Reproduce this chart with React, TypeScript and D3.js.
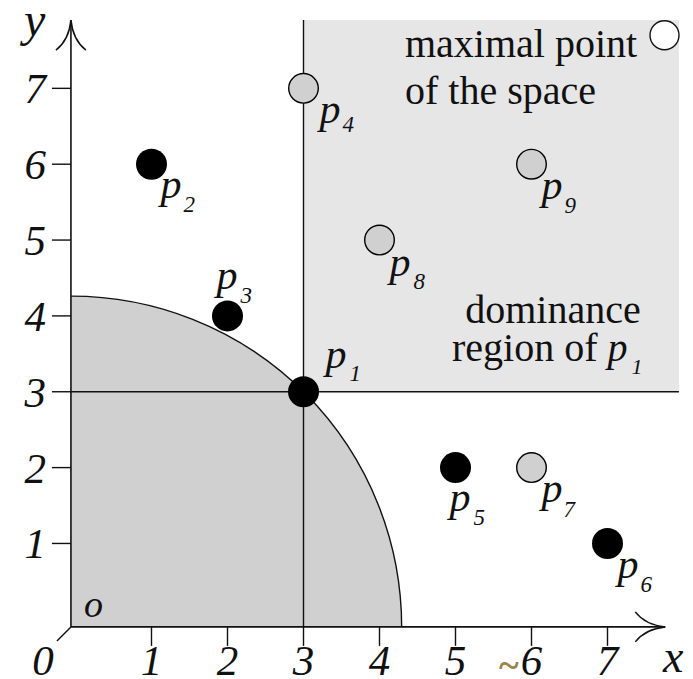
import React from "react";
import * as d3 from "d3";

// Points of the data set (minimisation skyline example)
const pointIds = [1, 2, 3, 4, 5, 6, 7, 8, 9];
const pointX = [3, 1, 2, 3, 5, 7, 6, 4, 6];
const pointY = [3, 6, 4, 7, 2, 1, 2, 5, 6];
// dominated points are drawn grey, skyline points black
const dominated = [false, false, false, true, false, false, true, true, true];

const xTicks = [1, 2, 3, 4, 5, 6, 7];
const yTicks = [1, 2, 3, 4, 5, 6, 7];

// extent of the space and its maximal point
const axisCorner = [-0.06, -0.1];
const spaceMax = [7.94, 7.9];
const maxPoint = [7.75, 7.7];
const xArrowEnd = 7.76;

// label placement relative to each point: [p dx, p dy, sub dx, sub dy]
const labelOffsets: Record<number, [number, number, number, number]> = {
  1: [22, -24, 46, -11],
  2: [9, 34, 32, 48],
  3: [-11, -27, 13, -13],
  4: [16, 35, 39, 44],
  5: [-6, 43, 18, 57],
  6: [10, 35, 33, 49],
  7: [10, 34, 32, 49],
  8: [10, 36, 34, 49],
  9: [10, 35, 33, 49],
};

const FONT = "'Liberation Serif', 'Times New Roman', serif";
const INK = "#111";

export default function App() {
  const W = 693;
  const H = 679;
  const x = d3.scaleLinear().domain([0, 7]).range([75.5, 607.5]);
  const y = d3.scaleLinear().domain([0, 7]).range([619.3, 88.35]);

  const ox = x(axisCorner[0]);
  const oy = y(axisCorner[1]);
  const p1x = x(pointX[0]);
  const p1y = y(pointY[0]);
  const r = Math.hypot(p1x - ox, p1y - oy);

  const topY = y(spaceMax[1]);
  const rightX = x(spaceMax[0]);
  const xEnd = x(xArrowEnd);

  const quarterFill = `M${ox},${oy - r} A${r},${r} 0 0 1 ${ox + r},${oy} L${ox},${oy} Z`;
  const quarterArc = `M${ox},${oy - r} A${r},${r} 0 0 1 ${ox + r},${oy}`;

  const yArrow = `M${ox - 15},${topY + 30} Q${ox - 2},${topY + 20} ${ox},${topY} Q${ox + 2},${topY + 20} ${ox + 15},${topY + 30}`;
  const xArrow = `M${xEnd - 30},${oy - 15} Q${xEnd - 20},${oy - 2} ${xEnd},${oy} Q${xEnd - 20},${oy + 2} ${xEnd - 30},${oy + 15}`;

  return (
    <svg
      width={W}
      height={H}
      viewBox={`0 0 ${W} ${H}`}
      style={{ position: "absolute", left: 0, top: 0, background: "#fff" }}
      fontFamily={FONT}
    >
      {/* dominance region of p1 */}
      <rect x={p1x} y={topY} width={rightX - p1x} height={p1y - topY} fill="#e6e6e6" />
      {/* quarter disc through p1 */}
      <path d={quarterFill} fill="#d0d0d0" />
      <path d={quarterArc} fill="none" stroke={INK} strokeWidth={1.4} />

      {/* lines through p1 */}
      <line x1={p1x} x2={p1x} y1={topY} y2={oy} stroke={INK} strokeWidth={1.4} />
      <line x1={ox} x2={rightX} y1={p1y} y2={p1y} stroke={INK} strokeWidth={1.4} />

      {/* axes */}
      <line x1={ox} x2={ox} y1={oy} y2={topY} stroke={INK} strokeWidth={1.6} />
      <line x1={ox} x2={xEnd} y1={oy} y2={oy} stroke={INK} strokeWidth={1.6} />
      <path d={yArrow} fill="none" stroke={INK} strokeWidth={1.5} />
      <path d={xArrow} fill="none" stroke={INK} strokeWidth={1.5} />
      <line x1={ox} y1={oy} x2={ox - 14} y2={oy + 14} stroke={INK} strokeWidth={1.4} />

      {/* ticks */}
      {xTicks.map((t) => (
        <g key={`xt${t}`}>
          <line x1={x(t)} x2={x(t)} y1={oy} y2={oy + 19} stroke={INK} strokeWidth={1.4} />
          <text x={x(t)} y={675} fontSize={43} fontStyle="italic" textAnchor="middle" fill={INK}>
            {t}
          </text>
        </g>
      ))}
      {yTicks.map((t) => (
        <g key={`yt${t}`}>
          <line x1={ox - 19} x2={ox} y1={y(t)} y2={y(t)} stroke={INK} strokeWidth={1.4} />
          <text x={46} y={y(t) + 15} fontSize={43} fontStyle="italic" textAnchor="end" fill={INK}>
            {t}
          </text>
        </g>
      ))}
      <text x={43} y={675} fontSize={43} fontStyle="italic" textAnchor="middle" fill={INK}>0</text>
      <text x={663} y={672} fontSize={46} fontStyle="italic" fill={INK}>x</text>
      <text x={24} y={36} fontSize={48} fontStyle="italic" fill={INK}>y</text>
      <text x={84} y={617} fontSize={38} fontStyle="italic" fill={INK}>o</text>
      <text x={499} y={678} fontSize={38} fontWeight="bold" fill="#9c8450">~</text>

      {/* annotations */}
      <text x={405} y={57} fontSize={40} fill={INK}>maximal point</text>
      <text x={405} y={104} fontSize={40} fill={INK}>of the space</text>
      <text x={553} y={323} fontSize={40} textAnchor="middle" fill={INK}>dominance</text>
      <text x={452} y={361} fontSize={40} fill={INK}>
        region of <tspan fontStyle="italic">p</tspan>
        <tspan fontSize={22} fontStyle="italic" dy={13} dx={4}>1</tspan>
      </text>
      <circle cx={x(maxPoint[0])} cy={y(maxPoint[1])} r={14.5} fill="#fff" stroke={INK} strokeWidth={1.4} />

      {/* points */}
      {pointIds.map((id, i) => {
        const cx = x(pointX[i]);
        const cy = y(pointY[i]);
        const [pdx, pdy, sdx, sdy] = labelOffsets[id];
        return (
          <g key={`p${id}`}>
            <circle
              cx={cx}
              cy={cy}
              r={dominated[i] ? 14.8 : 15.5}
              fill={dominated[i] ? "#d0d0d0" : "#000"}
              stroke="#000"
              strokeWidth={dominated[i] ? 1.4 : 0}
            />
            <text x={cx + pdx} y={cy + pdy} fontSize={42} fontStyle="italic" fill={INK}>p</text>
            <text x={cx + sdx} y={cy + sdy} fontSize={23} fontStyle="italic" fill={INK}>{id}</text>
          </g>
        );
      })}
    </svg>
  );
}
